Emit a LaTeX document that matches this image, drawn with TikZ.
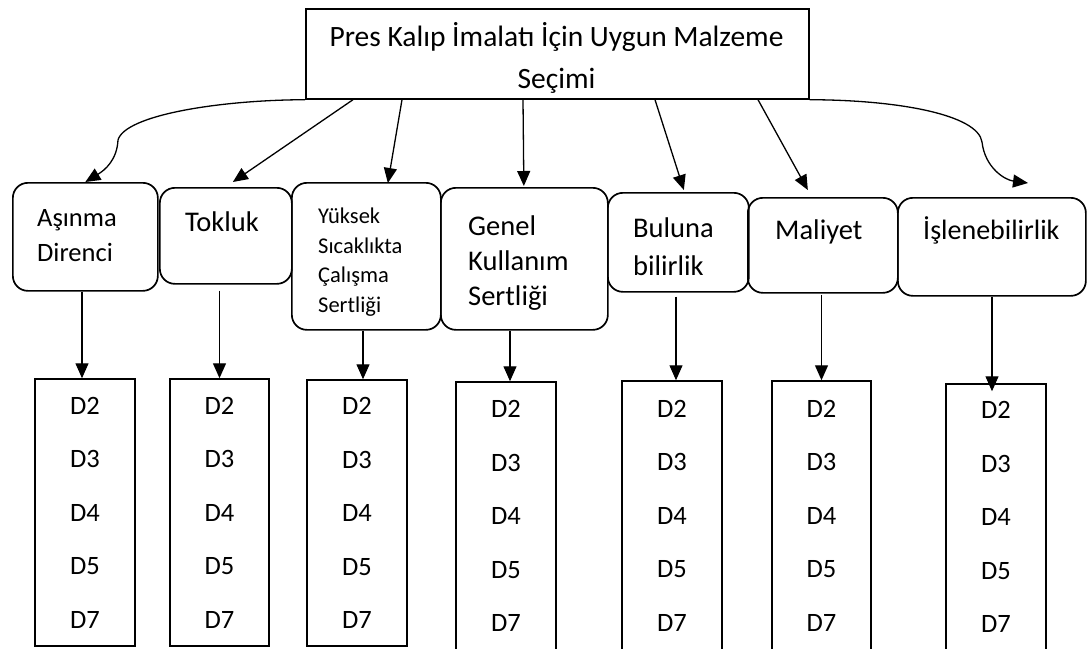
\documentclass[tikz,border=0pt]{standalone}
\usepackage{fontspec}
\setmainfont{Carlito}
\usetikzlibrary{arrows.meta}
\begin{document}
\begin{tikzpicture}[x=1pt,y=-1pt,
  rbox/.style={draw, line width=1.7pt, rounded corners=15pt, anchor=north west, inner sep=0pt},
  tbox/.style={draw, line width=1.7pt, anchor=north west, inner sep=0pt},
  dbox/.style={draw, line width=1.5pt, inner sep=0pt, align=center, font=\fontsize{26.5}{53.5}\selectfont},
  lbl/.style={anchor=west, inner sep=0pt, align=left},
  arr/.style={line width=1.3pt, -{Triangle[length=15pt,width=13pt]}},
]
\clip (0,0) rectangle (1087,648);
\useasboundingbox (0,0) rectangle (1087,648);

% title
\node[tbox, minimum width=503pt, minimum height=90pt] (top) at (305,8) {};
\node[align=center, inner sep=0pt, font=\fontsize{29.5}{42}\selectfont] (title) at (556.5,58)
  {Pres Kalıp İmalatı İçin Uygun Malzeme\\Seçimi};

% criteria boxes
\node[rbox, minimum width=145pt, minimum height=108pt] (r1) at (12,182) {};
\node[rbox, minimum width=132pt, minimum height=96pt]  (r2) at (159,187) {};
\node[rbox, minimum width=149pt, minimum height=147pt] (r3) at (291,182) {};
\node[rbox, minimum width=167pt, minimum height=142pt] (r4) at (440,187) {};
\node[rbox, minimum width=141pt, minimum height=99pt]  (r5) at (607,192) {};
\node[rbox, minimum width=150pt, minimum height=95pt]  (r6) at (747,197) {};
\node[rbox, minimum width=188pt, minimum height=98pt]  (r7) at (897,197) {};

\node[lbl, font=\fontsize{26.5}{35}\selectfont] (t1) at (37,235.5) {Aşınma\\Direnci};
\node[inner sep=0pt, font=\fontsize{28.5}{34}\selectfont] (t2) at (222,222) {Tokluk};
\node[lbl, font=\fontsize{22.5}{29.5}\selectfont] (t3) at (318,262) {Yüksek\\Sıcaklıkta\\Çalışma\\Sertliği};
\node[lbl, font=\fontsize{28.5}{35}\selectfont] (t4) at (468,263) {Genel\\Kullanım\\Sertliği};
\node[lbl, font=\fontsize{28.5}{38}\selectfont] (t5) at (633,247) {Buluna\\bilirlik};
\node[lbl, font=\fontsize{28.5}{34}\selectfont] (t6) at (775,232) {Maliyet};
\node[lbl, font=\fontsize{28}{34}\selectfont] (t7) at (923,230) {İşlenebilirlik};

% D boxes
\node[dbox, minimum width=100pt, minimum height=267pt] (l1) at (85,512.5) {D2\\D3\\D4\\D5\\D7};
\node[dbox, minimum width=99pt,  minimum height=267pt] (l2) at (219.5,512.5) {D2\\D3\\D4\\D5\\D7};
\node[dbox, minimum width=100pt, minimum height=266pt] (l3) at (357,513) {D2\\D3\\D4\\D5\\D7};
\node[dbox, minimum width=100pt, minimum height=268pt] (l4) at (506,516) {D2\\D3\\D4\\D5\\D7};
\node[dbox, minimum width=100pt, minimum height=269pt] (l5) at (672,515.5) {D2\\D3\\D4\\D5\\D7};
\node[dbox, minimum width=99pt,  minimum height=269pt] (l6) at (821.5,515.5) {D2\\D3\\D4\\D5\\D7};
\node[dbox, minimum width=100pt, minimum height=266pt] (l7) at (996,517) {D2\\D3\\D4\\D5\\D7};

% arrows from title
\draw[arr] (top.south west) .. controls (220,100) and (125,115) .. (118,140)
  .. controls (117,160) and (105,170) .. (r1.north);
\draw[arr] ([xshift=48pt]top.south west) -- ([xshift=7pt,yshift=5pt]r2.north);
\draw[arr] ([xshift=97pt]top.south west) -- ([xshift=21.5pt,yshift=-1pt]r3.north);
\draw[arr] ([xshift=218pt]top.south west) -- ([xshift=-0.5pt,yshift=1pt]r4.north);
\draw[arr] ([xshift=350pt]top.south west) -- ([xshift=5.5pt,yshift=2pt]r5.north);
\draw[arr] ([xshift=453pt]top.south west) -- ([xshift=-15pt,yshift=7pt]r6.north);
\coordinate (e7) at (1028,183);
\draw[arr] (top.south east) .. controls (900,100) and (978,115) .. (982,142)
  .. controls (985,168) and (1005,180) .. (e7);

% arrows down
\draw[arr] ([xshift=-3pt]l1.north |- r1.south) -- ([xshift=-3pt]l1.north);
\draw[arr] ([yshift=-6pt]l2.north |- r2.south) -- (l2.north);
\draw[arr] ([xshift=6pt]l3.north |- r3.south) -- ([xshift=6pt]l3.north);
\draw[arr] ([xshift=4pt]l4.north |- r4.south) -- ([xshift=4pt]l4.north);
\draw[arr] ([xshift=4pt,yshift=-4pt]l5.north |- r5.south) -- ([xshift=4pt]l5.north);
\draw[arr] ([yshift=-1pt]l6.north |- r6.south) -- (l6.north);
\draw[arr] ([xshift=-4pt]l7.north |- r7.south) -- ([xshift=-4pt,yshift=-8pt]l7.north);
\end{tikzpicture}
\end{document}
